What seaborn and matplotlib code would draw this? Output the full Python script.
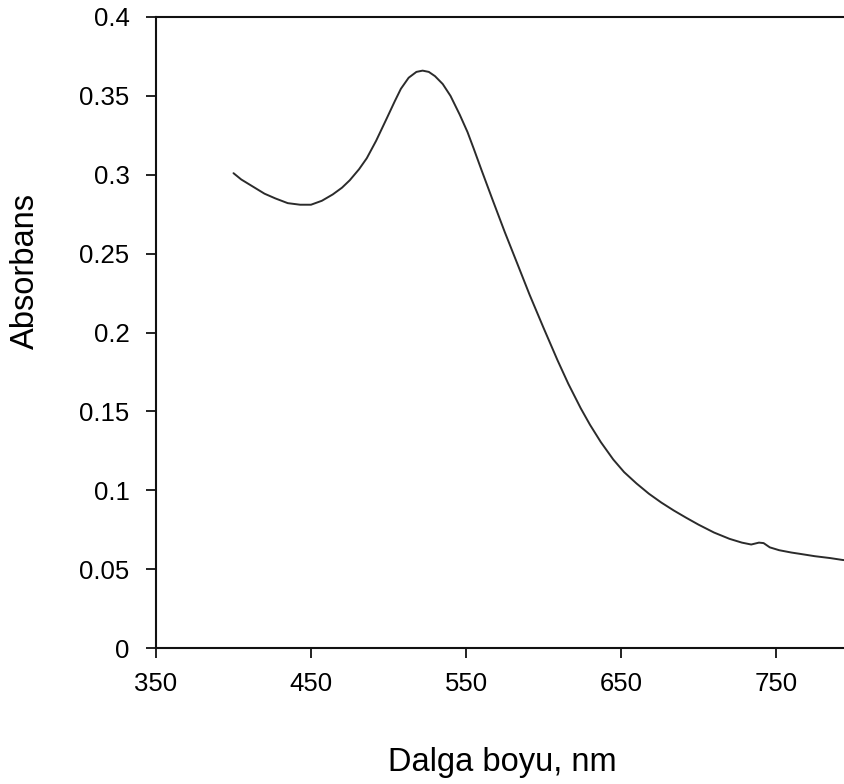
import matplotlib
matplotlib.use("Agg")
import matplotlib.pyplot as plt
import seaborn as sns
import pandas as pd

wavelength = [400, 405, 410, 415, 420, 427, 435, 443, 450, 457, 464, 470, 475,
              481, 486, 492, 499, 504, 508, 513, 518, 522, 526, 530, 535, 540,
              546, 551, 555, 560, 567, 575, 583, 591, 600, 609, 616, 624, 630,
              637, 645, 652, 660, 668, 676, 684, 692, 700, 710, 720, 728, 734,
              739, 742, 746, 752, 760, 766, 775, 785, 793, 800]
absorbance = [0.301, 0.297, 0.294, 0.291, 0.288, 0.285, 0.282, 0.281, 0.281,
              0.2835, 0.2875, 0.2918, 0.2965, 0.3035, 0.3105, 0.3215, 0.336,
              0.3465, 0.3545, 0.3615, 0.3652, 0.366, 0.3652, 0.3625, 0.3575,
              0.350, 0.338, 0.327, 0.3165, 0.303, 0.2845, 0.2637, 0.2439,
              0.224, 0.203, 0.1825, 0.1675, 0.152, 0.1415, 0.1305, 0.1195,
              0.1115, 0.1043, 0.0978, 0.0922, 0.0872, 0.0826, 0.0782, 0.0732,
              0.0692, 0.0668, 0.0656, 0.0668, 0.0665, 0.0638, 0.0620, 0.0605,
              0.0596, 0.0582, 0.0570, 0.0558, 0.0552]

x_ticks = [350, 450, 550, 650, 750]
x_tick_labels = ["350", "450", "550", "650", "750"]
y_ticks = [0, 0.05, 0.1, 0.15, 0.2, 0.25, 0.3, 0.35, 0.4]
y_tick_labels = ["0", "0.05", "0.1", "0.15", "0.2", "0.25", "0.3", "0.35", "0.4"]

x_label = "Dalga boyu, nm"
y_label = "Absorbans"

sns.set_style("ticks")
plt.rcParams["font.family"] = ["Liberation Sans", "DejaVu Sans"]

df = pd.DataFrame({"wavelength": wavelength, "absorbance": absorbance})

W, H = 844, 784
fig = plt.figure(figsize=(W / 100, H / 100), dpi=100)
ax = fig.add_axes([156 / W, 136 / H, 775 / W, 631 / H])

sns.lineplot(data=df, x="wavelength", y="absorbance", ax=ax, color="#2b2b2b",
             linewidth=1.4, sort=False)

ax.set_xlim(350, 850)
ax.set_ylim(0, 0.4)
ax.set_xticks(x_ticks)
ax.set_xticklabels(x_tick_labels)
ax.set_yticks(y_ticks)
ax.set_yticklabels(y_tick_labels)

for s in ax.spines.values():
    s.set_color("#111111")
    s.set_linewidth(1.5)
ax.tick_params(axis="both", direction="out", length=7.5, width=1.3,
               colors="#111111", labelsize=18.5,
               top=False, right=False, labelcolor="#000000")
ax.tick_params(axis="y", pad=11.5)
ax.tick_params(axis="x", pad=10)

ax.set_xlabel(x_label, fontsize=23.5, color="#000000")
ax.set_ylabel(y_label, fontsize=23.5, color="#000000")
ax.xaxis.set_label_coords(502.5 / W, 1 - 747 / H, transform=fig.transFigure)
ax.yaxis.set_label_coords(25 / W, 1 - 271 / H, transform=fig.transFigure)
ax.xaxis.label.set_va("top")
ax.yaxis.label.set_va("center")

fig.savefig("out.png", dpi=100)
